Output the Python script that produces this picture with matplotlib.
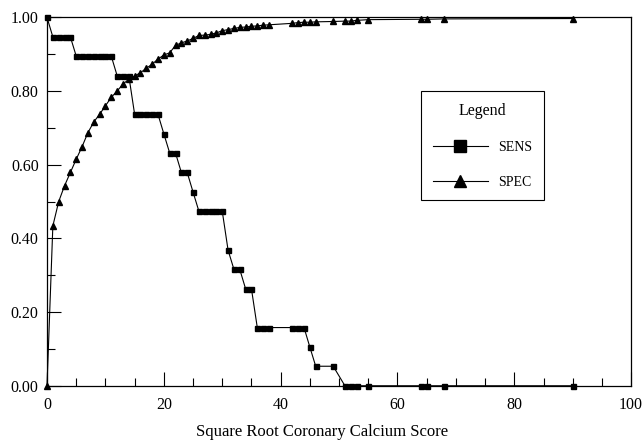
import matplotlib
matplotlib.use("Agg")
import matplotlib.pyplot as plt
from matplotlib.ticker import MultipleLocator, FormatStrFormatter

plt.rcParams['font.family'] = ['Liberation Serif', 'DejaVu Serif']

# thresholds (square root calcium score) shared by both curves
score = list(range(0, 39)) + [42, 43, 44, 45, 46, 49, 51, 52, 53, 55, 64, 65, 68, 90]

sens = ([1.0] + [0.947] * 4 + [0.895] * 7 + [0.842] * 3 + [0.737] * 5
        + [0.684] + [0.632] * 2 + [0.579] * 2 + [0.526] + [0.474] * 5
        + [0.368] + [0.316] * 2 + [0.263] * 2 + [0.158] * 3
        + [0.158] * 3 + [0.105] + [0.053] * 2 + [0.0] * 8)

spec = [0.0, 0.434, 0.500, 0.543, 0.579, 0.615, 0.649, 0.687, 0.716, 0.737,
        0.760, 0.783, 0.800, 0.819, 0.832, 0.841, 0.850, 0.862, 0.873, 0.887,
        0.898, 0.904, 0.924, 0.931, 0.936, 0.943, 0.951, 0.952, 0.954, 0.958,
        0.964, 0.967, 0.970, 0.973, 0.974, 0.976, 0.977, 0.979, 0.980,
        0.984, 0.986, 0.987, 0.987, 0.988, 0.989, 0.990, 0.990, 0.992, 0.994,
        0.995, 0.995, 0.996, 0.997]

fig = plt.figure(figsize=(6.44, 4.47), dpi=100)
ax = fig.add_axes([0.073, 0.137, 0.907, 0.824])

ax.plot(score, sens, color='black', linewidth=0.8, marker='s', markersize=3.6,
        label='SENS', clip_on=False)
ax.plot(score, spec, color='black', linewidth=0.8, marker='^', markersize=4,
        label='SPEC', clip_on=False)

ax.set_xlim(0, 100)
ax.set_ylim(0, 1)
ax.xaxis.set_major_locator(MultipleLocator(20))
ax.xaxis.set_minor_locator(MultipleLocator(5))
ax.yaxis.set_major_locator(MultipleLocator(0.2))
ax.yaxis.set_minor_locator(MultipleLocator(0.1))
ax.yaxis.set_major_formatter(FormatStrFormatter('%.2f'))
ax.tick_params(which='major', direction='in', length=10, width=0.8, labelsize=11.5)
ax.tick_params(axis='x', which='major', pad=8)
ax.tick_params(axis='y', which='major', pad=6)
ax.tick_params(which='minor', direction='in', length=6, width=0.8)
for sp in ax.spines.values():
    sp.set_linewidth(0.9)

ax.set_xlabel('Square Root Coronary Calcium Score', fontsize=12)
ax.xaxis.set_label_coords(0.471, -0.105)

leg = ax.legend(title='Legend', loc='upper left', bbox_to_anchor=(0.64, 0.80),
                fancybox=False, edgecolor='black', framealpha=1, fontsize=10,
                title_fontsize=11.5, handlelength=4.0, markerscale=2.2,
                labelspacing=1.55, borderpad=0.85, handletextpad=0.7,
                borderaxespad=0)
leg.get_frame().set_linewidth(0.8)
leg._legend_box.sep = 16

fig.savefig('out.png', dpi=100)
